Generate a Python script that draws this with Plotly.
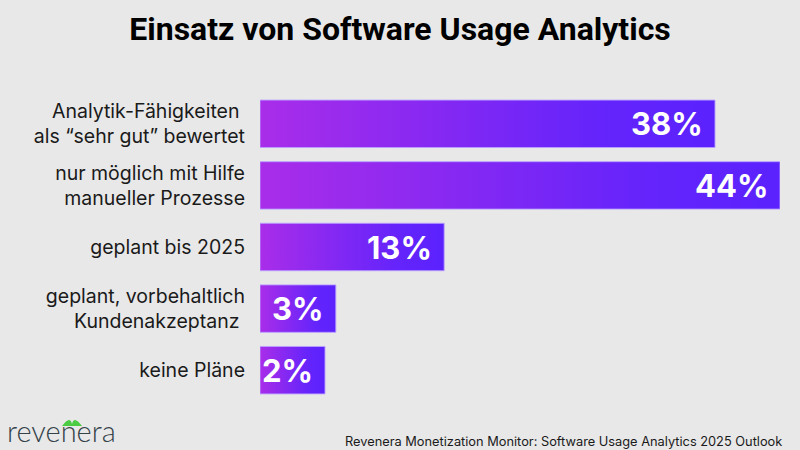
import plotly.graph_objects as go

categories = [
    "Analytik-Fähigkeiten <br>als “sehr gut” bewertet",
    "nur möglich mit Hilfe<br>manueller Prozesse",
    "geplant bis 2025",
    "geplant, vorbehaltlich<br>Kundenakzeptanz ",
    "keine Pläne",
]
values = [38, 44, 13, 3, 2]
value_labels = ["38%", "44%", "13%", "3%", "2%"]

AXIS_START = -4      # left edge of the value axis (bars start here)
HALF = 0.385         # half bar thickness in row units

W, H = 800, 450
ML, MR, MT, MB = 260, 20, 93, 49
PW, PH = W - ML - MR, H - MT - MB


def px(x):
    return (x - ML) / PW


def py(y):
    return (H - y - MB) / PH


fig = go.Figure()
for i, v in enumerate(values):
    fig.add_trace(go.Scatter(
        x=[AXIS_START, v, v, AXIS_START, AXIS_START],
        y=[i - HALF, i - HALF, i + HALF, i + HALF, i - HALF],
        mode="lines",
        fill="toself",
        line=dict(color="rgba(185,160,255,0.9)", width=1),
        fillgradient=dict(type="horizontal",
                          colorscale=[[0, "#a92de9"], [0.75, "#6424fb"], [1, "#5b22fe"]]),
        hoverinfo="skip",
        showlegend=False,
    ))
    fig.add_annotation(
        x=v, y=i, xref="x", yref="y", text=value_labels[i],
        xanchor="right", yanchor="middle", xshift=-10, showarrow=False,
        font=dict(family="Inter", size=31, color="white", weight=700),
    )

fig.update_layout(
    width=W, height=H,
    paper_bgcolor="#e8e8e8", plot_bgcolor="#e8e8e8",
    margin=dict(l=ML, r=MR, t=MT, b=MB),
    title=dict(text="<b>Einsatz von Software Usage Analytics</b>",
               x=0.5, xanchor="center", y=1 - 28.5 / H, yanchor="middle",
               font=dict(family="Roboto", size=32, color="#000000")),
    xaxis=dict(range=[AXIS_START, 44], visible=False, fixedrange=True),
    yaxis=dict(range=[4.5, -0.5], tickvals=list(range(len(categories))),
               ticktext=categories, showgrid=False, zeroline=False,
               showline=False, ticks="", ticklabelstandoff=14, fixedrange=True,
               tickfont=dict(family="Inter", size=19.5, color="#1a1a1a")),
)

# source line
fig.add_annotation(
    x=px(783), y=py(441), xref="paper", yref="paper",
    text="Revenera Monetization Monitor: Software Usage Analytics 2025 Outlook",
    showarrow=False, xanchor="right", yanchor="middle", borderpad=0,
    font=dict(family="Inter", size=12.8, color="#1a1a1a"),
)

# logo
fig.add_annotation(
    x=px(6), y=py(430), xref="paper", yref="paper",
    text="revenera", showarrow=False, xanchor="left", yanchor="middle",
    borderpad=0,
    font=dict(family="Lato", size=29, color="#34424a", weight=300),
)
fig.add_shape(type="path", xref="paper", yref="paper",
              path="M %f,%f Q %f,%f %f,%f Q %f,%f %f,%f Z" % (
                  px(62), py(426),
                  px(70), py(415),
                  px(72), py(424),
                  px(74), py(415),
                  px(82), py(426)),
              fillcolor="#4ccb45", line=dict(width=0))

fig.write_html("out.html", config={"displayModeBar": False},
               post_script="document.body.style.margin='0';document.body.style.padding='0';")
